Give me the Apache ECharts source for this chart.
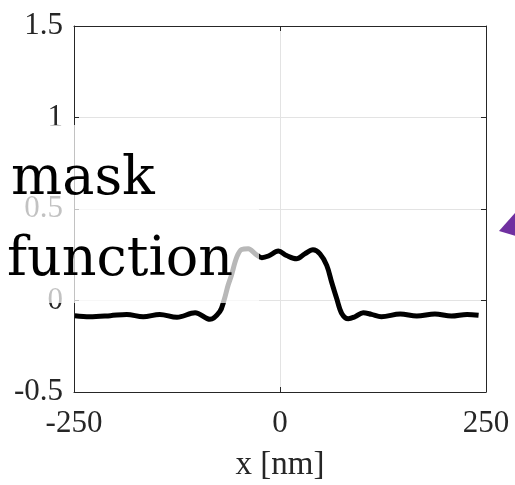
<!DOCTYPE html>
<html>
<head>
<meta charset="utf-8">
<script src="https://cdn.jsdelivr.net/npm/echarts@6/dist/echarts.min.js"></script>
<style>html,body{margin:0;padding:0;background:#fff;}#c{width:515px;height:485px;}</style>
</head>
<body>
<div id="c"></div>
<script>
const xValues = [-249, -231, -206, -186, -166, -146, -125, -103, -85, -73, -68, -63, -59, -52.5, -46.5, -38.5, -30, -22, -14, -2, 8, 20, 30, 40, 48.5, 56.7, 62.7, 68.8, 74.9, 82.9, 91, 101, 111, 123, 146, 166, 188, 208, 227, 241];
const yValues = [-0.083, -0.089, -0.083, -0.076, -0.089, -0.076, -0.092, -0.067, -0.103, -0.06, 0, 0.083, 0.137, 0.237, 0.279, 0.283, 0.255, 0.234, 0.243, 0.27, 0.246, 0.228, 0.255, 0.277, 0.255, 0.192, 0.1, 0.011, -0.071, -0.1, -0.089, -0.067, -0.076, -0.089, -0.074, -0.085, -0.074, -0.085, -0.076, -0.08];
const xTicks = { min: -250, max: 250, interval: 250 };
const yTicks = { min: -0.5, max: 1.5, interval: 0.5 };
const xName = 'x [nm]';
const overlayLines = ['mask', 'function'];

const chart = echarts.init(document.getElementById('c'));
const axisColor = '#262626';
const tickFont = { fontFamily: 'Liberation Serif', fontSize: 31, color: '#262626' };
const baseX = {
  type: 'value', min: xTicks.min, max: xTicks.max, interval: xTicks.interval,
  axisLine: { show: true, onZero: false, lineStyle: { color: axisColor, width: 1 } },
  axisTick: { show: true, inside: true, length: 5, lineStyle: { color: axisColor } },
  splitLine: { show: false }
};
const baseY = {
  type: 'value', min: yTicks.min, max: yTicks.max, interval: yTicks.interval,
  axisLine: { show: true, onZero: false, lineStyle: { color: axisColor, width: 1 } },
  axisTick: { show: true, inside: true, length: 5, lineStyle: { color: axisColor } },
  splitLine: { show: false }
};
chart.setOption({
  animation: false,
  backgroundColor: '#fff',
  grid: { left: 74, right: 29, top: 26, bottom: 93, containLabel: false, outerBoundsMode: 'none' },
  xAxis: [
    Object.assign({}, baseX, {
      position: 'bottom',
      splitLine: { show: true, lineStyle: { color: '#e3e3e3', width: 1 } },
      axisLabel: Object.assign({ margin: 16, formatter: v => String(v) }, tickFont),
      name: xName, nameLocation: 'middle', nameGap: 57,
      nameTextStyle: { fontFamily: 'Liberation Serif', fontSize: 33, color: '#262626' }
    }),
    Object.assign({}, baseX, { position: 'top', axisLabel: { show: false } })
  ],
  yAxis: [
    Object.assign({}, baseY, {
      position: 'left',
      splitLine: { show: true, lineStyle: { color: '#e3e3e3', width: 1 } },
      axisLabel: Object.assign({ margin: 11, formatter: v => String(v) }, tickFont)
    }),
    Object.assign({}, baseY, { position: 'right', axisLabel: { show: false } })
  ],
  series: [{
    type: 'line',
    data: xValues.map((x, i) => [x, yValues[i]]),
    symbol: 'none',
    smooth: 0.35,
    lineStyle: { color: '#000', width: 5 },
    z: 5
  }],
  graphic: [
    { type: 'rect', shape: { x: 0, y: 125, width: 259, height: 178 }, style: { fill: 'rgba(255,255,255,0.72)' }, z: 100 },
    { type: 'text', x: 11, y: 180, style: { text: overlayLines[0], font: '54px "DejaVu Serif"', fill: '#000', verticalAlign: 'middle' }, z: 101 },
    { type: 'text', x: 7, y: 261, style: { text: overlayLines[1], font: '54px "DejaVu Serif"', fill: '#000', verticalAlign: 'middle' }, z: 101 },
    { type: 'polygon', shape: { points: [[499, 231], [516, 212], [516, 236]] }, style: { fill: '#7030A0' }, z: 101 }
  ]
});
</script>
</body>
</html>
